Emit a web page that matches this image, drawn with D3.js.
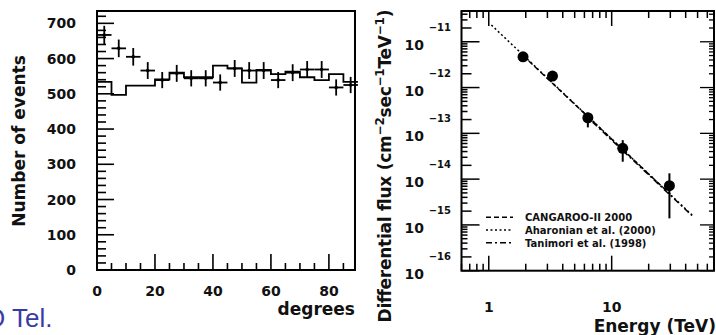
<!DOCTYPE html>
<html>
<head>
<meta charset="utf-8">
<script src="https://cdn.jsdelivr.net/npm/d3@7"></script>
<style>
  body { margin: 0; background: #fff; }
  svg { display: block; }
  text { font-family: "DejaVu Sans", sans-serif; font-weight: bold; fill: #111; }
</style>
</head>
<body>
<div id="chart"></div>
<script>
// left panel: event counts vs angle, 5 degree bins
const binCenters = [2.5, 7.5, 12.5, 17.5, 22.5, 27.5, 32.5, 37.5, 42.5, 47.5, 52.5, 57.5, 62.5, 67.5, 72.5, 77.5, 82.5, 87.5];
const binHalf = 2.5;
const onCounts = [667, 629, 605, 566, 539, 558, 544, 544, 532, 572, 566, 566, 539, 560, 569, 569, 518, 525];
const onErrors = [26, 25, 25, 24, 23, 24, 23, 23, 23, 24, 24, 24, 23, 24, 24, 24, 23, 23];
const offCounts = [534, 497, 523, 523, 541, 560, 547, 547, 580, 572, 532, 568, 556, 563, 547, 539, 556, 534];
const degTicks = [0, 20, 40, 60, 80];
const countTicks = [0, 100, 200, 300, 400, 500, 600, 700];

// right panel: differential flux vs energy
const energies = [1.9, 3.3, 6.4, 12.3, 29.5];
const fluxes = [4.7e-12, 1.78e-12, 2.19e-13, 4.7e-14, 7.2e-15];
const fluxLow = [4.3e-12, 1.62e-12, 1.35e-13, 2.4e-14, 1.39e-15];
const fluxHigh = [5.1e-12, 1.95e-12, 2.82e-13, 7.1e-14, 1.34e-14];
const energyTicks = [1, 10];
const fluxExponents = [-11, -12, -13, -14, -15, -16];
const fitNames = ['CANGAROO-II 2000', 'Aharonian et al. (2000)', 'Tanimori et al. (1998)'];
const fitEnergy = [[1.9, 30], [1.05, 46], [7, 45]];
const fitFlux = [[5.0e-12, 4.65e-15], [2.32e-11, 1.56e-15], [1.75e-13, 1.6e-15]];
const fitDash = ['5,3', '2,2.5', '6,3,2,3'];

const width = 716, height = 335;
const svg = d3.select('#chart').append('svg')
  .attr('width', width)
  .attr('height', height);

// ---------- left panel ----------
const xL = d3.scaleLinear().domain([0, 89]).range([97, 355]);
const yL = d3.scaleLinear().domain([0, 735]).range([270, 11]);
const left = svg.append('g');

// minor / major ticks on left axis (inward)
d3.range(0, 735, 20).forEach(v => {
  const len = v % 100 === 0 ? 17 : 9;
  left.append('line')
    .attr('x1', xL(0)).attr('x2', xL(0) + len)
    .attr('y1', yL(v)).attr('y2', yL(v))
    .attr('stroke', '#000').attr('stroke-width', 1.6);
});
d3.range(0, 90, 5).forEach(v => {
  const len = v % 20 === 0 ? 16 : 7;
  left.append('line')
    .attr('x1', xL(v)).attr('x2', xL(v))
    .attr('y1', yL(0)).attr('y2', yL(0) - len)
    .attr('stroke', '#000').attr('stroke-width', 1.6);
});

left.selectAll('.ylab').data(countTicks).enter().append('text')
  .attr('x', 76).attr('y', d => yL(d) + 5)
  .attr('text-anchor', 'end')
  .style('font-size', '14px')
  .text(d => d);
left.selectAll('.xlab').data(degTicks).enter().append('text')
  .attr('x', d => xL(d)).attr('y', 295.5)
  .attr('text-anchor', 'middle')
  .style('font-size', '14px')
  .text(d => d);

// background histogram (step line)
const steps = [];
binCenters.forEach((c, i) => {
  steps.push([c - binHalf, offCounts[i]]);
  steps.push([c + binHalf, offCounts[i]]);
});
left.append('path')
  .attr('d', d3.line().x(d => xL(d[0])).y(d => yL(d[1]))(steps))
  .attr('fill', 'none').attr('stroke', '#000').attr('stroke-width', 1.8);

// on-source crosses
const cross = left.selectAll('.cross').data(binCenters).enter().append('g');
cross.append('line')
  .attr('x1', (d) => xL(d - binHalf)).attr('x2', d => xL(d + binHalf))
  .attr('y1', (d, i) => yL(onCounts[i])).attr('y2', (d, i) => yL(onCounts[i]))
  .attr('stroke', '#000').attr('stroke-width', 1.8);
cross.append('line')
  .attr('x1', d => xL(d)).attr('x2', d => xL(d))
  .attr('y1', (d, i) => yL(onCounts[i] + onErrors[i])).attr('y2', (d, i) => yL(onCounts[i] - onErrors[i]))
  .attr('stroke', '#000').attr('stroke-width', 1.8);
cross.append('circle')
  .attr('cx', d => xL(d)).attr('cy', (d, i) => yL(onCounts[i]))
  .attr('r', 1.8).attr('fill', '#000');

left.append('rect')
  .attr('x', xL(0)).attr('y', yL(735))
  .attr('width', xL(89) - xL(0)).attr('height', yL(0) - yL(735))
  .attr('fill', 'none').attr('stroke', '#000').attr('stroke-width', 2);

left.append('text')
  .attr('transform', 'translate(25,141) rotate(-90)')
  .attr('text-anchor', 'middle')
  .style('font-size', '17px')
  .text('Number of events');
left.append('text')
  .attr('x', 355).attr('y', 315)
  .attr('text-anchor', 'end')
  .style('font-size', '17px')
  .text('degrees');

// ---------- right panel ----------
const xR = d3.scaleLog().domain([0.6, 68]).range([461.5, 714]);
const yR = d3.scaleLog().domain([1e-16, 4.7e-11]).range([270.7, 11]);
const right = svg.append('g');
const [x0, x1] = xR.range();
const [yb, yt] = yR.range();

// flux ticks, both sides
fluxExponents.concat([-10]).forEach(e => {
  d3.range(1, 10).forEach(m => {
    const v = m * Math.pow(10, e);
    if (v < 1e-16 || v > 4.7e-11) return;
    const len = m === 1 ? 18 : (m === 2 ? 10 : 6);
    right.append('line')
      .attr('x1', x0).attr('x2', x0 + len)
      .attr('y1', yR(v)).attr('y2', yR(v))
      .attr('stroke', '#000').attr('stroke-width', 1.5);
    right.append('line')
      .attr('x1', x1).attr('x2', x1 - (m === 1 ? 14 : 5))
      .attr('y1', yR(v)).attr('y2', yR(v))
      .attr('stroke', '#000').attr('stroke-width', 1.3);
  });
});
// energy ticks, bottom and top
[-1, 0, 1].forEach(e => {
  d3.range(1, 10).forEach(m => {
    const v = m * Math.pow(10, e);
    if (v < 0.6 || v > 68) return;
    const len = m === 1 ? 15 : 7;
    right.append('line')
      .attr('x1', xR(v)).attr('x2', xR(v))
      .attr('y1', yb).attr('y2', yb - len)
      .attr('stroke', '#000').attr('stroke-width', 1.5);
    right.append('line')
      .attr('x1', xR(v)).attr('x2', xR(v))
      .attr('y1', yt).attr('y2', yt + len)
      .attr('stroke', '#000').attr('stroke-width', 1.5);
  });
});

right.selectAll('.elab').data(energyTicks).enter().append('text')
  .attr('x', d => xR(d)).attr('y', 311.5)
  .attr('text-anchor', 'middle')
  .style('font-size', '14px')
  .text(d => d);

const ylab = right.selectAll('.flab').data(fluxExponents).enter().append('g');
ylab.append('text')
  .attr('x', 424).attr('y', d => yR(Math.pow(10, d)) + 8)
  .attr('text-anchor', 'end')
  .style('font-size', '14px')
  .text('10');
ylab.append('text')
  .attr('x', 451).attr('y', d => yR(Math.pow(10, d)) - 11)
  .attr('text-anchor', 'end')
  .style('font-size', '10px')
  .text(d => '\u2212' + Math.abs(d));

// fit lines
fitEnergy.forEach((r, i) => {
  right.append('line')
    .attr('x1', xR(r[0])).attr('y1', yR(fitFlux[i][0]))
    .attr('x2', xR(r[1])).attr('y2', yR(fitFlux[i][1]))
    .attr('stroke', '#000').attr('stroke-width', 1.5)
    .attr('stroke-dasharray', fitDash[i]);
});

// data points with error bars
right.selectAll('.err').data(energies).enter().append('line')
  .attr('x1', d => xR(d)).attr('x2', d => xR(d))
  .attr('y1', (d, i) => yR(fluxHigh[i])).attr('y2', (d, i) => yR(fluxLow[i]))
  .attr('stroke', '#000').attr('stroke-width', 2);
right.selectAll('.pt').data(energies).enter().append('circle')
  .attr('cx', d => xR(d)).attr('cy', (d, i) => yR(fluxes[i]))
  .attr('r', 5.5).attr('fill', '#000');

// legend
fitNames.forEach((name, i) => {
  const y = 217.3 + i * 12.7;
  right.append('line')
    .attr('x1', 486).attr('x2', 513).attr('y1', y).attr('y2', y)
    .attr('stroke', '#000').attr('stroke-width', 1.5)
    .attr('stroke-dasharray', fitDash[i]);
  right.append('text')
    .attr('x', 525).attr('y', y + 3.8)
    .style('font-size', '10px')
    .text(name);
});

right.append('rect')
  .attr('x', x0).attr('y', yt)
  .attr('width', x1 - x0).attr('height', yb - yt)
  .attr('fill', 'none').attr('stroke', '#000').attr('stroke-width', 2);

const fluxTitle = right.append('text')
  .attr('transform', 'translate(391,166) rotate(-90)')
  .attr('text-anchor', 'middle')
  .attr('textLength', 313)
  .style('font-size', '17px');
fluxTitle.append('tspan').text('Differential flux (cm');
fluxTitle.append('tspan').attr('dy', -7).style('font-size', '12px').text('\u22122');
fluxTitle.append('tspan').attr('dy', 7).text('sec');
fluxTitle.append('tspan').attr('dy', -7).style('font-size', '12px').text('\u22121');
fluxTitle.append('tspan').attr('dy', 7).text('TeV');
fluxTitle.append('tspan').attr('dy', -7).style('font-size', '12px').text('\u22121');
fluxTitle.append('tspan').attr('dy', 7).text(')');

right.append('text')
  .attr('x', 716).attr('y', 332)
  .attr('text-anchor', 'end')
  .style('font-size', '17px')
  .text('Energy (TeV)');

// slide caption fragment, cut by the left edge as in the slide
svg.append('text')
  .attr('x', -15).attr('y', 327)
  .style('font-family', '"Liberation Sans", Arial, sans-serif')
  .style('font-weight', 'normal')
  .style('font-size', '26px')
  .style('fill', '#3a3aa6')
  .text('O Tel.');
</script>
</body>
</html>
